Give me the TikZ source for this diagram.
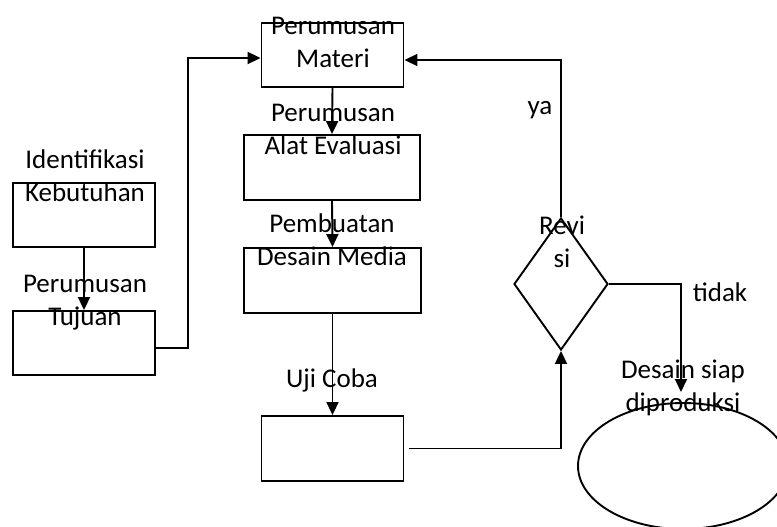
\documentclass[tikz,border=0pt]{standalone}
\usepackage{fontspec}
\setmainfont{Carlito}
\usepackage{tikz}
\usetikzlibrary{shapes.geometric, arrows.meta, positioning}

\begin{document}
\begin{tikzpicture}[
    x=1pt, y=-1pt,
    box/.style={draw, line width=1.9pt, inner sep=0pt,
                minimum width=142pt, minimum height=64pt},
    decide/.style={draw, diamond, line width=1.9pt, inner sep=0pt,
                   minimum width=94pt, minimum height=132pt},
    finish/.style={draw, ellipse, line width=1.9pt, inner sep=0pt,
                   minimum width=210pt, minimum height=126pt},
    txt/.style={font=\fontsize{27}{33}\selectfont, align=center, inner sep=0pt},
    arrow/.style={-{Triangle[length=13pt, width=12pt]}, line width=1.9pt},
]
\useasboundingbox (0,0) rectangle (777,527);

% Boxes
\node[box] (keb) at (84,215) {};
\node[box] (tuj) at (84,343) {};
\node[box] (mat) at (332.5,55) {};
\node[box, minimum width=176pt, minimum height=65pt] (eval) at (332,167.5) {};
\node[box, minimum width=177pt, minimum height=65pt] (media) at (332.5,280.5) {};
\node[box, minimum height=65pt] (uji) at (332.5,448.5) {};

% Decision and end
\node[decide] (rev) at (561,284) {};
\node[finish] (siap) at (683,466) {};
\coordinate (tidakEnd) at (681,392);

% Texts
\node[txt] (kebT) at (85,176) {Identifikasi\\Kebutuhan};
\node[txt] (tujT) at (85,303) {Perumusan\\Tujuan};
\node[txt] (matT) at (333,42) {Perumusan\\Materi};
\node[txt] (evalT) at (333,129) {Perumusan\\Alat Evaluasi};
\node[txt] (mediaT) at (332,240) {Pembuatan\\Desain Media};
\node[txt] (ujiT) at (332,380) {Uji Coba};
\node[txt] (revT) at (562,242) {Revi\\si};
\node[txt] (siapT) at (683,388) {Desain siap\\diproduksi};
\node[txt] (ya) at (540,110) {ya};
\node[txt] (tidak) at (720,292) {tidak};

% Flow
\draw[arrow] (keb.south) -- (tuj.north);
\draw[arrow] ([yshift=-5pt]tuj.east) -- ++(32,0) |- ([yshift=-3pt]mat.west);
\draw[arrow] (mat.south) -- (eval.north);
\draw[arrow] (eval.south) -- (media.north);
\draw[arrow] (media.south) -- (uji.north);
\draw[arrow] ([xshift=5pt]uji.east) -| (rev.south);
\draw[arrow] (rev.north) |- ([yshift=-5pt]mat.east);
\draw[arrow] (rev.east) -| (tidakEnd);
\end{tikzpicture}
\end{document}
